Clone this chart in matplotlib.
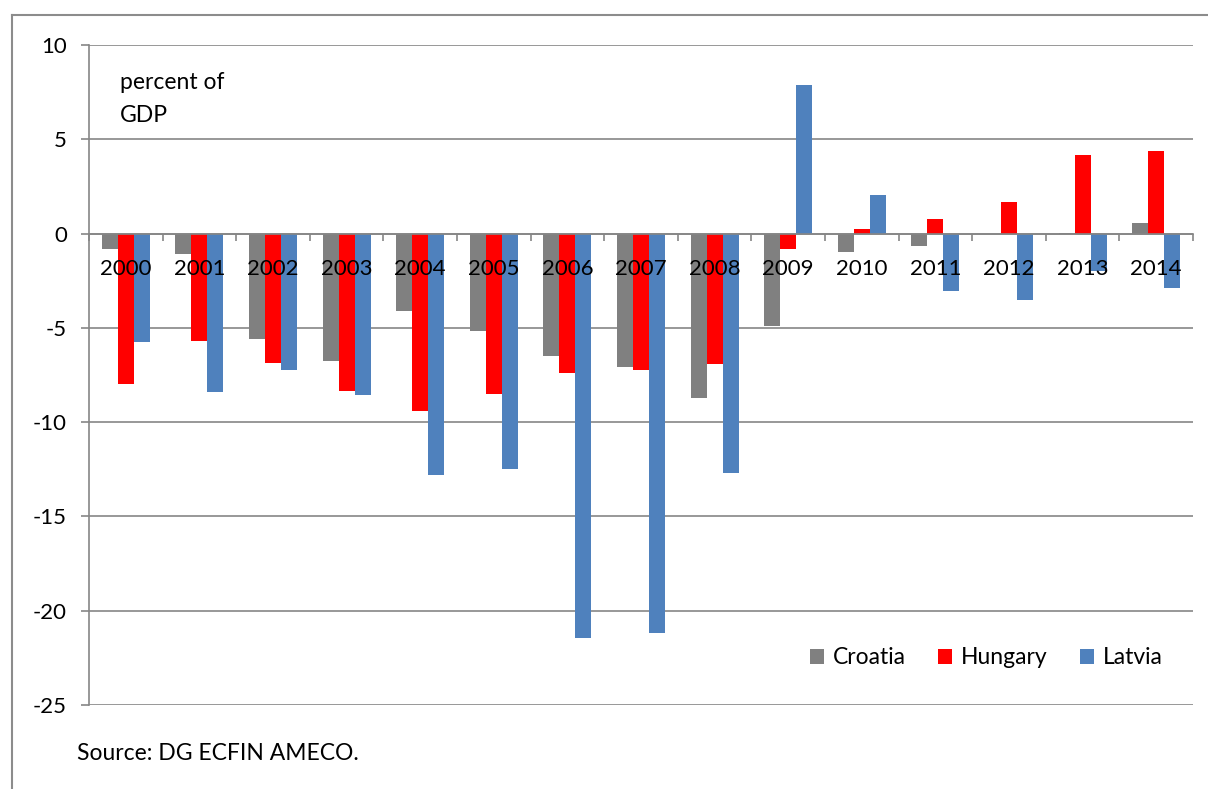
import numpy as np
import matplotlib
matplotlib.use("Agg")
import matplotlib.pyplot as plt
from matplotlib.lines import Line2D

plt.rcParams["font.family"] = ["Lato", "DejaVu Sans"]
plt.rcParams["axes.unicode_minus"] = False

# 경상수지 (GDP 대비 %), 그림에서 읽은 값
years = [str(y) for y in range(2000, 2015)]
croatia = [-0.83, -1.08, -5.58, -6.75, -4.12, -5.18, -6.50, -7.07, -8.74,
           -4.90, -1.00, -0.64, 0.00, 0.05, 0.57]
hungary = [-7.96, -5.70, -6.84, -8.33, -9.43, -8.49, -7.41, -7.25, -6.91,
           -0.82, 0.25, 0.78, 1.70, 4.17, 4.40]
latvia = [-5.73, -8.42, -7.26, -8.56, -12.82, -12.50, -21.44, -21.19, -12.68,
          7.87, 2.07, -3.07, -3.52, -2.00, -2.87]
yticks = [10, 5, 0, -5, -10, -15, -20, -25]

W, H = 1208, 789
fig = plt.figure(figsize=(W / 100, H / 100), dpi=100)
ax = fig.add_axes([89 / W, 1 - 705 / H, (1193 - 89) / W, (705 - 45) / H])

grid_c = "#868686"
x = np.arange(len(years))
bw = 16 / 73.6
series = (("Croatia", croatia, "#808080"), ("Hungary", hungary, "#FF0000"),
          ("Latvia", latvia, "#4F81BD"))
for k, (name, vals, col) in enumerate(series):
    ax.bar(x + (k - 1) * bw, vals, width=bw, color=col, label=name, zorder=3)

ax.set_xlim(-0.5, len(years) - 0.5)
ax.set_ylim(-25, 10)
ax.set_yticks(yticks)
ax.set_yticklabels([str(v) for v in yticks], fontsize=16)
for v in yticks:
    ax.axhline(v, color=grid_c, lw=1.2, zorder=1)
ax.tick_params(axis="y", length=6, width=1.2, color=grid_c, pad=10)

# 범주축: 0선 위 경계 눈금 + 라벨 (막대 위에 겹쳐 그림)
ax.spines["bottom"].set_position(("data", 0))
ax.spines["bottom"].set_color(grid_c)
ax.spines["bottom"].set_linewidth(1.2)
ax.spines["bottom"].set_zorder(4)
ax.set_xticks(x)
ax.set_xticklabels(years, fontsize=16)
ax.set_xticks(np.arange(-0.5, len(years)), minor=True)
ax.tick_params(axis="x", which="major", length=0, pad=18)
ax.tick_params(axis="x", which="minor", length=5, width=1.2, color=grid_c)
ax.xaxis.set_zorder(5)
ax.spines["left"].set_color(grid_c)
ax.spines["left"].set_linewidth(1.2)
ax.spines["top"].set_visible(False)
ax.spines["right"].set_visible(False)

fig.text(120 / W, 1 - 72 / H, "percent of\nGDP", fontsize=16.5, va="top",
         ha="left", linespacing=1.7)
fig.text(77 / W, 1 - 753 / H, "Source: DG ECFIN AMECO.", fontsize=16.5,
         va="center", ha="left")

ax.legend(loc="center right", bbox_to_anchor=((1172 - 89) / 1104, (705 - 658) / 660),
          ncol=3, frameon=False, fontsize=16.5, handlelength=0.6,
          handleheight=0.6, handletextpad=0.4, columnspacing=1.4,
          borderaxespad=0)

# 차트 영역 테두리 (오른쪽·아래는 잘림)
fig.add_artist(Line2D([12 / W, 12 / W], [0, 1 - 15 / H], transform=fig.transFigure,
                      color="#8c8c8c", lw=1.5))
fig.add_artist(Line2D([12 / W, 1], [1 - 15 / H, 1 - 15 / H], transform=fig.transFigure,
                      color="#8c8c8c", lw=1.5))

fig.savefig("out.png", dpi=100)
